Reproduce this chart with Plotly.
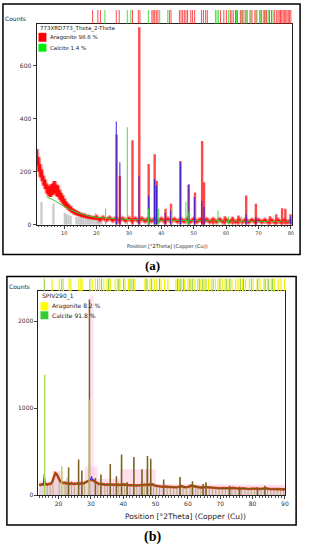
import plotly.graph_objects as go

# ---------------- Panel (a) data ----------------
a_bg_x = [1.5,1.75,2.0,2.25,2.5,2.75,3.0,3.25,3.5,3.75,4.0,4.25,4.5,4.75,5.0,5.25,5.5,5.75,6.0,6.25,
          6.5,6.75,7.0,7.25,7.5,7.75,8.0,8.25,8.5,8.75,9.0,9.25,9.5,9.75,10.0,10.25,10.5,10.75,11.0,11.25,
          11.5,11.75,12.0,12.25,12.5,12.75,13.0,13.25,13.5,13.75,14.0,14.25,14.5,14.75,15.0,15.25,15.5,15.75,16.0,16.25,
          16.5,16.75,17.0,17.25,17.5,17.75,18.0,18.25,18.5,18.75,19.0,19.25,19.5,19.75,20.0,
          21,22,23,24,25,26,27,28,29,30,31,32,33,34,35,36,37,38,39,40,41,42,43,44,45,46,47,48,49,50,
          51,52,53,54,55,56,57,58,59,60,61,62,63,64,65,66,67,68,69,70,71,72,73,74,75,76,77,78,79,80]
a_bg_y = [285,225,255,200,228,180,208,165,185,148,170,135,155,118,148,110,145,105,152,112,
          155,115,165,118,152,108,148,104,132,95,120,86,110,78,98,70,88,64,80,58,
          74,53,68,48,62,44,57,40,54,38,50,35,47,33,44,31,42,29,40,28,
          38,27,36,25,35,24,33,23,32,22,31,21,30,20,29,
          18,27,17,26,16,25,16,24,15,24,15,23,14,23,14,23,14,22,13,22,13,22,13,21,12,21,12,21,12,21,
          12,20,11,20,11,20,11,20,11,19,11,19,10,19,10,19,10,18,10,18,10,18,9,18,9,18,9,17,9,17]

a_fit_x = [4.5, 5, 6, 7, 8, 9, 10, 12, 14, 16, 18, 20, 25, 30, 40, 50, 60, 70, 80]
a_fit_y = [106, 102, 98, 92, 84, 77, 70, 56, 46, 38, 32, 28, 23, 20, 17, 15, 14, 13, 12]

a_red_pos = [26.2, 27.2, 31.1, 33.2, 36.1, 37.95, 38.6, 41.3, 43.0, 45.9, 48.4, 50.4, 52.6, 53.2,
             56.0, 59.6, 62.0, 63.8, 66.2, 69.2, 73.5, 75.5, 77.3, 78.3, 79.9]
a_red_h   = [340, 185, 319, 745, 229, 266, 166, 60, 79, 241, 150, 122, 316, 160,
             25, 32, 30, 35, 110, 79, 32, 40, 62, 60, 40]

a_blue_pos = [26.1, 27.2, 33.1, 36.1, 37.9, 38.5, 41.2, 42.9, 45.9, 48.5, 50.2, 52.5, 53.2, 66.2, 69.2, 79.9]
a_blue_h   = [390, 236, 185, 110, 172, 147, 45, 55, 235, 154, 105, 91, 67, 40, 30, 30]

a_calc_pos = [22.8, 29.5, 36.0, 39.2, 43.2, 47.6, 48.5, 57.5, 60.7, 64.7]
a_calc_h   = [60, 368, 60, 60, 70, 86, 50, 54, 30, 30]

a_stick_pos = [3.0, 6.7, 10.2, 10.6, 11.3, 12.0, 13.8, 14.5, 15.2, 15.9, 16.6, 17.3, 18.0, 18.7, 19.4, 20.1, 20.8, 21.5]
a_stick_h   = [86, 79, 45, 41, 38, 34, 30, 28, 28, 26, 26, 25, 24, 24, 23, 22, 22, 22]

a_ref_arag = [18.8, 20.4, 21.2, 26.1, 27.0, 31.1, 32.9, 33.4, 37.1, 37.5, 37.95, 38.45, 38.96, 42.5, 43.0,
              45.6, 46.1, 46.6, 47.1, 47.6, 48.1, 49.1, 49.6, 50.3, 52.4, 53.0, 53.7, 54.2,
              58.3, 59.3, 60.1, 61.3, 61.8, 62.9, 63.5, 64.4, 65.0, 65.9, 66.5, 67.4, 68.0, 68.9,
              69.5, 70.4, 71.0, 71.9, 72.5, 73.4, 74.0, 74.9, 75.5, 76.0, 76.4, 76.8, 77.2, 77.6,
              78.0, 78.4, 78.8, 79.2, 79.6, 80.0]
a_ref_calc = [22.6, 29.5, 30.6, 36.0, 39.5, 42.0, 56.7, 57.2, 57.7, 60.8, 62.3, 63.2, 64.7, 65.3,
              66.2, 67.7, 69.2, 70.7, 71.6, 72.2, 73.0, 74.5]

# ---------------- Panel (b) data ----------------
b_obs_x = [14,14.5,15,15.5,16,16.5,17,17.5,18,18.5,19,19.5,20,20.5,21,21.5,22,22.5,23,23.5,24,24.5,25,25.5,
           26,26.5,27,27.5,28,28.5,29,29.5,30,30.5,31,31.5,32,32.5,33,33.5,34,34.5,35,36,37,38,39,40,
           41,42,43,44,45,46,47,48,49,50,51,52,53,54,55,56,57,58,59,60,61,62,63,64,65,66,67,68,69,70,
           71,72,73,74,75,76,77,78,79,80,81,82,83,84,85,86,87,88,89,90]
b_obs_y = [125,118,128,120,130,122,132,128,150,200,255,240,190,160,150,140,145,135,140,130,140,128,135,130,
           138,130,140,135,142,150,160,175,180,175,160,150,140,130,132,125,128,120,125,122,120,118,120,125,
           118,115,118,112,115,118,125,130,125,110,102,98,100,95,98,92,95,105,92,95,110,100,90,88,95,92,85,82,85,80,
           82,78,80,85,78,75,80,76,72,78,74,72,76,80,74,72,75,70,72,68]

b_pk_pos = [23.1, 26.2, 27.2, 29.55, 31.4, 33.1, 36.0, 37.9, 39.5, 41.2, 43.3, 45.8, 47.5, 48.5,
            52.5, 57.6, 61.4, 64.7, 65.6, 72.9, 76.0, 81.5, 83.8]
b_pk_h   = [320, 410, 285, 2250, 200, 240, 360, 220, 470, 150, 440, 300, 450, 420,
            180, 210, 160, 130, 150, 110, 100, 95, 110]

b_blue_pos  = [15.6, 30.2]
b_blue_h    = [244, 217]
b_blue_base = [125, 175]

b_green_pos = [15.7, 21.0, 29.5]
b_green_h   = [1385, 330, 1100]

b_stick_pos = [16.5, 17.4, 18.3, 20.2, 22.0, 22.6, 23.1, 24.0, 24.9, 26.2, 27.2, 28.0, 31.4, 32.2, 33.1,
               34.3, 35.1, 36.0, 37.0, 37.9, 38.6, 39.4, 40.4, 41.2, 42.1, 43.2, 44.2, 45.1, 45.8, 46.5,
               47.2, 47.5, 48.5, 49.4, 50.3, 51.2, 52.5, 53.6, 54.6, 55.6, 56.6, 57.4, 58.5, 59.5, 60.7,
               61.4, 62.4, 63.1, 64.0, 64.7, 65.6, 66.6, 67.6, 68.6, 69.6, 70.6, 71.6, 72.6, 73.6, 74.6,
               75.6, 76.6, 77.6, 78.6, 79.6, 80.6, 81.6, 82.6, 83.6, 84.6, 85.6, 86.6, 87.6, 88.6, 89.6]
b_stick_h   = [120, 110, 130, 150, 140, 200, 320, 130, 150, 380, 270, 150, 200, 150, 230,
               130, 120, 340, 140, 200, 150, 450, 140, 150, 120, 420, 130, 130, 290, 150,
               300, 430, 400, 140, 120, 110, 170, 100, 100, 100, 110, 200, 100, 95, 130,
               150, 100, 100, 100, 120, 140, 95, 90, 90, 90, 90, 90, 100, 90, 90,
               90, 85, 85, 85, 85, 85, 90, 85, 100, 85, 80, 80, 80, 80, 80]

b_pink_x = [14, 18, 18.1, 21.5, 21.6, 28, 28.1, 32, 32.1, 39, 39.1, 50, 50.1, 90]
b_pink_y = [160, 160, 280, 280, 170, 170, 330, 330, 190, 190, 300, 300, 130, 120]

b_ref_arag = [18.0, 20.2, 21.5, 23.3, 23.8, 26.3, 26.9, 27.3, 30.4, 31.4, 32.7, 34.0, 35.0, 36.0,
              37.5, 38.2, 39.0, 40.6, 41.6, 42.6, 43.6, 46.7, 47.5, 48.3, 49.6, 50.4, 51.7, 52.8, 53.8,
              56.3, 57.2, 58.0, 59.0, 60.0, 61.0, 62.2, 63.0, 64.0, 65.0, 66.4, 67.2, 68.5, 69.3, 70.6,
              71.5, 72.7, 73.6, 74.8, 75.5, 76.9, 77.8, 79.0, 80.2, 81.4, 82.3, 83.5, 84.6, 85.8, 86.7,
              87.9, 88.8, 89.9]
b_ref_calc = [15.6, 21.0, 29.7, 32.1, 33.3, 35.5, 38.6, 40.1, 42.1, 43.1, 47.1, 48.8, 51.2, 56.8,
              57.6, 58.6, 60.6, 61.5, 63.5, 64.6, 65.6, 67.8, 69.9, 72.0, 73.0, 76.2, 77.2, 79.6, 81.6,
              83.9, 85.0, 86.2]


def spikes(pos, h, base=None):
    xs, ys = [], []
    for i, (p, v) in enumerate(zip(pos, h)):
        b = 0 if base is None else base[i]
        xs += [p, p, None]
        ys += [b, v, None]
    return xs, ys


def tri(pos, h, base, hw):
    xs, ys = [], []
    for p, v, b in zip(pos, h, base):
        xs += [p - hw, p, p + hw, None]
        ys += [b, v, b, None]
    return xs, ys


def strip(pos):
    xs, ys = [], []
    for p in pos:
        xs += [p, p, None]
        ys += [0, 1, None]
    return xs, ys


fig = go.Figure()

# ---- panel (a) ----
sx, sy = spikes(a_stick_pos, a_stick_h)
fig.add_trace(go.Scatter(x=sx, y=sy, mode="lines", line=dict(color="#c8c8c8", width=2.2),
                         xaxis="x", yaxis="y", hoverinfo="skip"))
fig.add_trace(go.Scatter(x=a_bg_x, y=a_bg_y, mode="lines", line=dict(color="rgba(255,60,60,0.55)", width=5),
                         xaxis="x", yaxis="y"))
fig.add_trace(go.Scatter(x=a_bg_x, y=a_bg_y, mode="lines", line=dict(color="#ff0a0a", width=2.4),
                         xaxis="x", yaxis="y"))
fig.add_trace(go.Scatter(x=a_fit_x, y=a_fit_y, mode="lines", line=dict(color="#30d030", width=1),
                         xaxis="x", yaxis="y"))
rx, ry = spikes(a_red_pos, a_red_h)
fig.add_trace(go.Scatter(x=rx, y=ry, mode="lines", line=dict(color="rgba(255,40,40,0.85)", width=2.4),
                         xaxis="x", yaxis="y"))
bx, by = spikes(a_blue_pos, a_blue_h)
fig.add_trace(go.Scatter(x=bx, y=by, mode="lines", line=dict(color="rgba(50,30,220,0.9)", width=1.1),
                         xaxis="x", yaxis="y"))
gx, gy = spikes(a_calc_pos, a_calc_h)
fig.add_trace(go.Scatter(x=gx, y=gy, mode="lines", line=dict(color="#40e040", width=1),
                         xaxis="x", yaxis="y"))
# reference strip (a)
x1, y1 = strip(a_ref_arag)
fig.add_trace(go.Scatter(x=x1, y=y1, mode="lines", line=dict(color="rgba(255,30,30,0.8)", width=1),
                         xaxis="x", yaxis="y3"))
x2, y2 = strip(a_ref_calc)
fig.add_trace(go.Scatter(x=x2, y=y2, mode="lines", line=dict(color="rgba(40,220,40,0.85)", width=1),
                         xaxis="x", yaxis="y3"))

# ---- panel (b) ----
fig.add_trace(go.Scatter(x=b_pink_x, y=b_pink_y, mode="lines", line=dict(width=0),
                         fill="tozeroy", fillcolor="rgba(255,185,215,0.45)", xaxis="x2", yaxis="y2"))
fig.add_trace(go.Scatter(x=[29.7, 30.9, 30.9, 29.7, 29.7], y=[0, 0, 2300, 2300, 0], mode="lines",
                         line=dict(width=0), fill="toself", fillcolor="rgba(255,200,225,0.5)",
                         xaxis="x2", yaxis="y2"))
fig.add_trace(go.Scatter(x=b_obs_x, y=b_obs_y, mode="lines", line=dict(width=0),
                         fill="tozeroy", fillcolor="rgba(205,190,195,0.35)", xaxis="x2", yaxis="y2"))
kx, ky = spikes(b_stick_pos, b_stick_h)
fig.add_trace(go.Scatter(x=kx, y=ky, mode="lines", line=dict(color="rgba(165,155,80,0.7)", width=1),
                         xaxis="x2", yaxis="y2"))
fig.add_trace(go.Scatter(x=b_obs_x, y=b_obs_y, mode="lines", line=dict(color="#e8401c", width=2.6),
                         xaxis="x2", yaxis="y2"))
fig.add_trace(go.Scatter(x=b_obs_x, y=b_obs_y, mode="lines", line=dict(color="#6e5a18", width=1.2),
                         xaxis="x2", yaxis="y2"))
px_, py_ = spikes(b_pk_pos, b_pk_h)
fig.add_trace(go.Scatter(x=px_, y=py_, mode="lines", line=dict(color="#7a6020", width=1.5),
                         xaxis="x2", yaxis="y2"))
tx, ty = tri(b_blue_pos, b_blue_h, b_blue_base, 0.35)
fig.add_trace(go.Scatter(x=tx, y=ty, mode="lines", line=dict(color="#3030e0", width=1),
                         xaxis="x2", yaxis="y2"))
gx2, gy2 = spikes(b_green_pos, b_green_h)
fig.add_trace(go.Scatter(x=gx2, y=gy2, mode="lines", line=dict(color="#a0d850", width=1.3),
                         xaxis="x2", yaxis="y2"))
# reference strip (b)
x3, y3 = strip(b_ref_arag)
fig.add_trace(go.Scatter(x=x3, y=y3, mode="lines", line=dict(color="#f2f200", width=1.2),
                         xaxis="x2", yaxis="y4"))
x4, y4 = strip(b_ref_calc)
fig.add_trace(go.Scatter(x=x4, y=y4, mode="lines", line=dict(color="#8ccc3c", width=1),
                         xaxis="x2", yaxis="y4"))

W, H = 309, 550
def PX(v): return v / W
def PY(v): return 1 - v / H

tickfont = dict(family="DejaVu Sans", size=6, color="#333")
axis_common = dict(showgrid=False, zeroline=False, showline=True, linecolor="#222", linewidth=1,
                   mirror=True, ticks="outside", tickcolor="#444", ticklen=3, tickwidth=1)

fig.update_layout(
    width=W, height=H, margin=dict(l=0, r=0, t=0, b=0),
    paper_bgcolor="white", plot_bgcolor="white", showlegend=False,
    xaxis=dict(domain=[PX(37), PX(296)], range=[1.47, 80.4], anchor="y", tick0=0, dtick=10,
               tickfont=dict(family="DejaVu Sans", size=5, color="#333"),
               minor=dict(dtick=1, ticks="outside", ticklen=1.5, tickcolor="#555"), **axis_common),
    yaxis=dict(domain=[PY(226), PY(24)], range=[0, 758], anchor="x", tickvals=[0, 200, 400, 600],
               tickfont=tickfont, **axis_common),
    yaxis3=dict(domain=[PY(24), PY(10)], range=[0, 1], anchor="x", visible=False),
    xaxis2=dict(domain=[PX(39), PX(289)], range=[13.8, 90.1], anchor="y2", tick0=0, dtick=10,
                tickfont=dict(family="DejaVu Sans", size=6, color="#333"),
                minor=dict(dtick=1, ticks="outside", ticklen=1.5, tickcolor="#555"), **axis_common),
    yaxis2=dict(domain=[PY(498), PY(293)], range=[0, 2343], anchor="x2", tickvals=[0, 1000, 2000],
                tickfont=dict(family="DejaVu Sans", size=6, color="#333"), **axis_common),
    yaxis4=dict(domain=[PY(293), PY(280)], range=[0, 1], anchor="x2", visible=False),
)

shapes = [
    dict(type="rect", xref="paper", yref="paper", x0=PX(3), x1=PX(304), y0=PY(256), y1=PY(4),
         line=dict(color="black", width=1.5)),
    dict(type="rect", xref="paper", yref="paper", x0=PX(7), x1=PX(300), y0=PY(528), y1=PY(278),
         line=dict(color="black", width=1.5)),
    dict(type="rect", xref="paper", yref="paper", x0=PX(39), x1=PX(47), y0=PY(42), y1=PY(33),
         fillcolor="#ff0000", line=dict(width=0)),
    dict(type="rect", xref="paper", yref="paper", x0=PX(39), x1=PX(47), y0=PY(52), y1=PY(44),
         fillcolor="#00ee00", line=dict(width=0)),
    dict(type="rect", xref="paper", yref="paper", x0=PX(41), x1=PX(49), y0=PY(312), y1=PY(304),
         fillcolor="#ffff00", line=dict(width=0)),
    dict(type="rect", xref="paper", yref="paper", x0=PX(41), x1=PX(49), y0=PY(321), y1=PY(313),
         fillcolor="#33cc33", line=dict(width=0)),
]
fig.update_layout(shapes=shapes)

def ann(text, x, y, size=6, xanchor="left", family="DejaVu Sans", color="#222"):
    return dict(text=text, x=PX(x), y=PY(y), xref="paper", yref="paper", showarrow=False,
                xanchor=xanchor, yanchor="middle", font=dict(family=family, size=size, color=color))

annotations = [
    ann("Counts", 16, 19, 6, "center"),
    ann("773XRD773_Theta_2-Theta", 39, 29, 5.5),
    ann("Aragonite 98.6 %", 49, 38, 5.5),
    ann("Calcite 1.4 %", 49, 48, 5.5),
    ann("Position [°2Theta] (Copper (Cu))", 170, 248, 5, "center"),
    dict(text="<b>(a)</b>", x=PX(155), y=PY(267), xref="paper", yref="paper", showarrow=False,
         xanchor="center", yanchor="middle", font=dict(family="Liberation Serif", size=13, color="black")),
    ann("Counts", 20, 288, 6, "center"),
    ann("SPIV290_1", 41, 298, 6),
    ann("Aragonite 8.2 %", 51, 308, 6),
    ann("Calcite 91.8 %", 51, 317, 6),
    ann("Position [°2Theta] (Copper (Cu))", 188, 519, 7.5, "center"),
    dict(text="<b>(b)</b>", x=PX(155), y=PY(540), xref="paper", yref="paper", showarrow=False,
         xanchor="center", yanchor="middle", font=dict(family="Liberation Serif", size=14, color="black")),
]
fig.update_layout(annotations=annotations)

fig.write_html("out.html", config={"displayModeBar": False},
               post_script="document.body.style.margin='0';document.body.style.overflow='hidden';")
